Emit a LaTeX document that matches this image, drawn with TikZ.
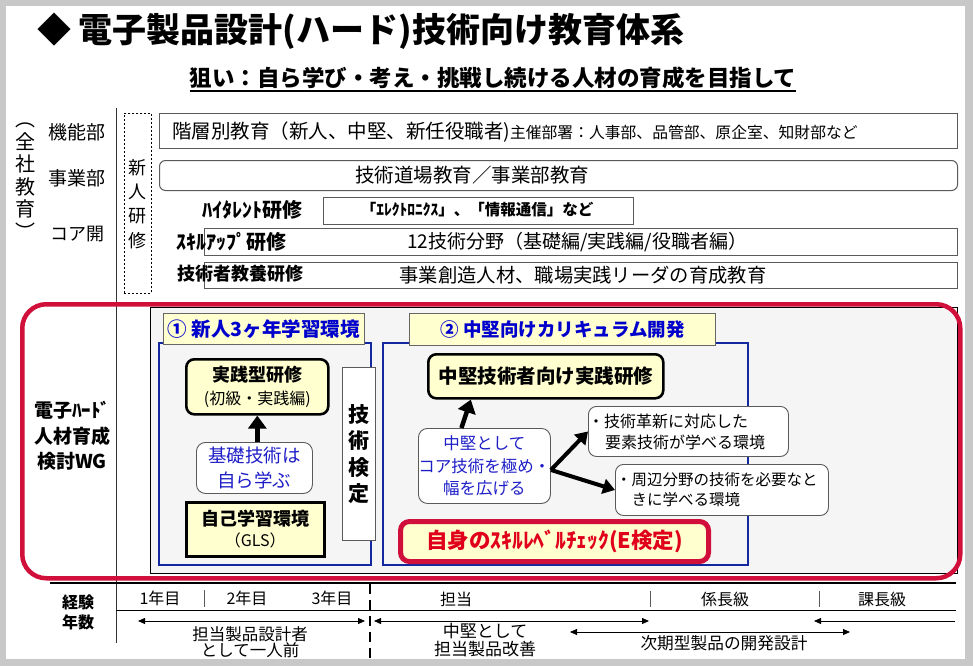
\documentclass[tikz,border=0pt]{standalone}
\usepackage{fontspec}
\usepackage{graphicx}
\setmainfont{Noto Sans CJK JP}
\usetikzlibrary{arrows.meta}
\newcommand\fsz[2]{\fontsize{#1pt}{#2pt}\selectfont}
\definecolor{cred}{RGB}{208,16,58}
\definecolor{tred}{RGB}{225,0,25}
\definecolor{cblue}{RGB}{0,0,204}
\definecolor{tblue}{RGB}{30,30,200}
\definecolor{fblue}{RGB}{20,40,160}
\definecolor{cyel}{RGB}{255,255,208}
\definecolor{cgray}{RGB}{200,200,200}
\definecolor{bgin}{RGB}{245,245,245}
\definecolor{bord}{RGB}{90,90,90}
\begin{document}
\begin{tikzpicture}[x=1pt,y=-1pt,
  txt/.style={inner sep=0pt,outer sep=0pt},
  rowbox/.style={draw=bord,line width=1pt,inner sep=0pt,anchor=north west},
  thickbox/.style={draw=black,line width=2.6pt,fill=cyel,inner sep=0pt,anchor=north west,align=center},
  softbox/.style={draw=bord,line width=0.9pt,fill=white,rounded corners=9pt,inner sep=0pt,anchor=north west},
  labbox/.style={draw=gray!80!black,line width=0.8pt,fill=cyel,inner sep=0pt,anchor=north west,text=cblue},
  framebox/.style={draw=fblue,line width=1.6pt,inner sep=0pt,anchor=north west},
  fatarrow/.style={line width=4.5pt,-{Triangle[width=18pt,length=13pt]}},
  medarrow/.style={line width=4pt,-{Triangle[width=15pt,length=12pt]}},
  thinarrow/.style={line width=0.8pt,{Triangle[width=6pt,length=7pt]}-{Triangle[width=6pt,length=7pt]}},
  leftarrow/.style={line width=0.8pt,{Triangle[width=6pt,length=7pt]}-},
  tick/.style={line width=0.6pt,draw=bord}
]
\useasboundingbox (0,0) rectangle (973,666);
\fill[cgray] (0,0) rectangle (973,666);
\fill[white] (6,6) rectangle (965,659);

% title
\node[txt,anchor=west,font=\fsz{34}{40}\bfseries] (title) at (37,31) {◆\hspace{8pt}電子製品設計(ハード)技術向け教育体系};
\node[txt,font=\fsz{22.5}{26}\bfseries] (sub) at (493,78) {狙い：自ら学び・考え・挑戦し続ける人材の育成を目指して};
\draw[line width=1.6pt] ([yshift=-2pt]sub.south west) -- ([yshift=-2pt]sub.south east);

% left labels
\node[txt,font=\fsz{20}{22.5},align=center] (zensha) at (26,181) {︵\\全\\社\\教\\育\\︶};
\node[txt,font=\fsz{19}{22}] (kino) at (77,132) {機能部};
\node[txt,font=\fsz{19}{22}] (jigyo) at (77,178) {事業部};
\node[txt,font=\fsz{18}{22}] (core) at (77,234) {コア開};

\coordinate (vtop) at (116,108);
\coordinate (vbot) at (116,643);
\draw[line width=1pt,black!80] (vtop) -- (vbot);

\node[draw,dash pattern=on 2pt off 2pt,line width=0.8pt,minimum width=27pt,minimum height=180pt,inner sep=0pt,anchor=north west] (shinbox) at (124,113) {};
\node[txt,font=\fsz{18}{24.3},align=center] (shin) at (137.5,204) {新\\人\\研\\修};

% rows
\node[rowbox,minimum width=798pt,minimum height=35pt] (b1) at (159,113) {};
\node[txt,anchor=west,font=\fsz{19.5}{22}] (b1t) at (172,132) {階層別教育（新人、中堅、新任役職者)\fsz{15.8}{20}主催部署：人事部、品管部、原企室、知財部など};

\node[rowbox,rounded corners=6pt,minimum width=798pt,minimum height=30pt] (b2) at (159,160) {};
\node[txt,font=\fsz{19.5}{22}] (b2t) at (472,175) {技術道場教育／事業部教育};

\node[txt,font=\fsz{20}{22}\bfseries] (hitl) at (252,210) {ﾊｲﾀﾚﾝﾄ研修};
\node[rowbox,minimum width=310pt,minimum height=27pt] (b3) at (323,197) {};
\node[txt,font=\fsz{15.5}{20}\bfseries] (b3t) at (477,210) {「ｴﾚｸﾄﾛﾆｸｽ」、「情報通信」など};

\node[rowbox,minimum width=753pt,minimum height=27pt] (b4) at (204,228) {};
\node[txt,font=\fsz{20}{22}\bfseries] (skl) at (231,242) {ｽｷﾙｱｯﾌﾟ研修};
\node[txt,font=\fsz{19}{22}] (b4t) at (577,242) {12技術分野（基礎編/実践編/役職者編）};

\node[rowbox,minimum width=753pt,minimum height=26pt] (b5) at (204,262) {};
\node[txt,font=\fsz{18}{22}\bfseries] (kyy) at (240,274) {技術者教養研修};
\node[txt,font=\fsz{19.3}{22}] (b5t) at (583,275) {事業創造人材、職場実践リーダの育成教育};

% WG area
\node[draw=black,line width=0.8pt,fill=bgin,minimum width=807pt,minimum height=266pt,anchor=north west,inner sep=0pt] (garea) at (150,307) {};
\node[draw=cred,line width=4.5pt,rounded corners=24pt,minimum width=938pt,minimum height=274pt,anchor=north west,inner sep=0pt] (redbox) at (20,302) {};
\node[txt,font=\fsz{19}{25.5}\bfseries,align=center] (wg) at (72,436) {電子ﾊｰﾄﾞ\\人材育成\\検討WG};

% section 1
\node[framebox,minimum width=212pt,minimum height=222pt] (s1frame) at (158,342) {};
\node[labbox,minimum width=201pt,minimum height=31pt,font=\fsz{19.5}{22}\bfseries] (s1lab) at (163,313) {① 新人3ヶ年学習環境};
\node[thickbox,rounded corners=8pt,minimum width=142pt,minimum height=55pt,font=\fsz{18}{23}] (jissen) at (185,358) {{\bfseries 実践型研修}\\{\fsz{16}{23}(初級・実践編)}};
\node[softbox,minimum width=116pt,minimum height=51pt,text=tblue,font=\fsz{18.5}{25},align=center] (kiso) at (196,442) {基礎技術は\\自ら学ぶ};
\draw[fatarrow] (jissen.south |- kiso.north) -- (jissen.south);
\node[thickbox,minimum width=138pt,minimum height=54pt,font=\fsz{18}{21}] (jiko) at (185,501) {{\bfseries 自己学習環境}\\{\fsz{16}{21}（GLS）}};
\node[draw=bord,line width=0.9pt,fill=white,minimum width=33pt,minimum height=173pt,anchor=north west,inner sep=0pt,font=\fsz{21}{26.5}\bfseries,align=center] (kentei) at (342,367) {技\\術\\検\\定};

% section 2
\node[framebox,minimum width=365pt,minimum height=222pt] (s2frame) at (382,342) {};
\node[labbox,minimum width=306pt,minimum height=32pt,font=\fsz{18.5}{22}\bfseries] (s2lab) at (409,313) {② 中堅向けカリキュラム開発};
\node[thickbox,rounded corners=8pt,minimum width=235pt,minimum height=44pt,font=\fsz{19.5}{22}\bfseries] (chutech) at (427,353) {中堅技術者向け実践研修};
\node[softbox,minimum width=128pt,minimum height=75pt,text=tblue,font=\fsz{16.5}{22.5},align=center] (chu) at (418,428) {中堅として\\コア技術を極め・\\幅を広げる};
\draw[fatarrow] ([xshift=-23pt]chu.north) -- ([xshift=-75pt]chutech.south);
\node[softbox,rounded corners=8pt,minimum width=200pt,minimum height=50pt] (kakushin) at (588,406) {};
\node[txt,anchor=west,align=left,font=\fsz{16}{20.5}] (kakut) at (588,432) {・技術革新に対応した\\\hspace*{17pt}要素技術が学べる環境};
\node[softbox,rounded corners=8pt,minimum width=213pt,minimum height=51pt] (shuhen) at (615,464) {};
\node[txt,anchor=west,align=left,font=\fsz{15.5}{20}] (shut) at (616,490) {・周辺分野の技術を必要なと\\\hspace*{15.5pt}きに学べる環境};
\coordinate (fork) at ([yshift=-4pt]chu.east);
\draw[medarrow] (fork) -- (kakushin.west);
\draw[medarrow] (fork) -- (shuhen.west);
\node[draw=cred,line width=5pt,rounded corners=9pt,fill=cyel,minimum width=308pt,minimum height=40pt,anchor=north west,inner sep=0pt,text=tred,font=\fsz{21.5}{24}\bfseries] (eken) at (398,519) {自身のｽｷﾙﾚﾍﾞﾙﾁｪｯｸ(E検定)};

% timeline
\coordinate (l1a) at (50,583); \coordinate (l1b) at (956,583);
\coordinate (l2a) at (116,610); \coordinate (l2b) at (956,610);
\draw[line width=1.2pt] (l1a) -- (l1b);
\draw[line width=1pt] (l2a) -- (l2b);
\node[txt,font=\fsz{16}{20}\bfseries,align=center] (keiken) at (78,612) {経験\\年数};
\node[txt,font=\fsz{16}{20}] (y1) at (160,598) {1年目};
\node[txt,font=\fsz{16}{20}] (y2) at (247,598) {2年目};
\node[txt,font=\fsz{16}{20}] (y3) at (332,598) {3年目};
\node[txt,font=\fsz{16}{20}] (tanto) at (456,599) {担当};
\node[txt,font=\fsz{16}{20}] (kakari) at (725,599) {係長級};
\node[txt,font=\fsz{16}{20}] (kacho) at (882,599) {課長級};
\coordinate (t1a) at (204,590); \coordinate (t1b) at (204,607);
\coordinate (t2a) at (650,591); \coordinate (t2b) at (650,607);
\coordinate (t3a) at (819,591); \coordinate (t3b) at (819,607);
\draw[tick] (t1a) -- (t1b);
\draw[tick] (t2a) -- (t2b);
\draw[tick] (t3a) -- (t3b);
\coordinate (da) at (370,584); \coordinate (db) at (370,660);
\draw[line width=2.5pt,dash pattern=on 10pt off 6pt] (da) -- (db);
\coordinate (a1a) at (138,621); \coordinate (a1b) at (365,621);
\coordinate (a2a) at (374,621); \coordinate (a2b) at (649,621);
\coordinate (a3a) at (570,632); \coordinate (a3b) at (850,632);
\coordinate (a4a) at (814,621); \coordinate (a4b) at (955,621);
\draw[thinarrow] (a1a) -- (a1b);
\draw[thinarrow] (a2a) -- (a2b);
\draw[thinarrow] (a3a) -- (a3b);
\draw[leftarrow] (a4a) -- (a4b);
\node[txt,font=\fsz{16.5}{16},align=center] (ichinin) at (250,642) {担当製品設計者\\として一人前};
\node[txt,font=\fsz{17}{18},align=center] (kaizen) at (485,640) {中堅として\\担当製品改善};
\node[txt,font=\fsz{16.7}{20}] (jiki) at (724,643) {次期型製品の開発設計};
\end{tikzpicture}
\end{document}
